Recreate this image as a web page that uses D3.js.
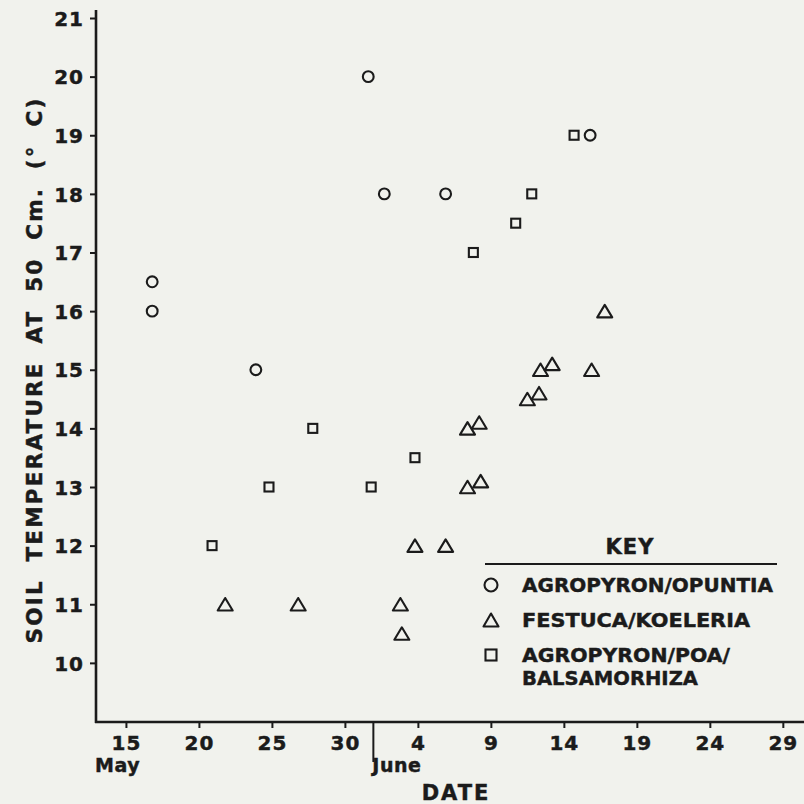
<!DOCTYPE html>
<html>
<head>
<meta charset="utf-8">
<script src="https://cdn.jsdelivr.net/npm/d3@7"></script>
<style>
  html, body { margin: 0; padding: 0; background: #f1f2ed; }
  svg { display: block; }
  svg text { font-family: "DejaVu Sans", "Liberation Sans", Arial, sans-serif; font-weight: bold; fill: #1b1b1b; stroke: #1b1b1b; stroke-width: 0.45px; }
</style>
</head>
<body>
<script>
// ---- data (x = day count from 0 May: 15 May = 15, 4 June = 35) ----
const circleDays  = [16.8, 16.8, 23.9, 31.6, 32.7, 36.9, 46.8];
const circleTemps = [16.5, 16.0, 15.0, 20.0, 18.0, 18.0, 19.0];

const triangleDays  = [21.8, 26.8, 33.8, 33.9, 34.8, 36.9, 38.4, 39.3, 38.4, 39.2, 42.5, 43.3, 43.4, 44.2, 46.9, 47.8];
const triangleTemps = [11.0, 11.0, 11.0, 10.5, 12.0, 12.0, 13.0, 13.1, 14.0, 14.1, 14.5, 14.6, 15.0, 15.1, 15.0, 16.0];

const squareDays  = [20.9, 24.8, 27.8, 31.8, 34.8, 38.8, 41.7, 42.8, 45.7];
const squareTemps = [12.0, 13.0, 14.0, 13.0, 13.5, 17.0, 17.5, 18.0, 19.0];

const xTickValues = [15, 20, 25, 30, 35, 40, 45, 50, 55, 60];
const xTickLabels = ["15", "20", "25", "30", "4", "9", "14", "19", "24", "29"];
const yTickValues = [10, 11, 12, 13, 14, 15, 16, 17, 18, 19, 20, 21];
const juneStart = 31.95;

const seriesNames = ["AGROPYRON/OPUNTIA", "FESTUCA/KOELERIA", "AGROPYRON/POA/", "BALSAMORHIZA"];
const yTitle = "SOIL TEMPERATURE AT 50 Cm. (° C)";
const xTitle = "DATE";

// ---- layout ----
const W = 804, H = 804;
const ink = "#1b1b1b";
const FONT = "'DejaVu Sans', 'Liberation Sans', Arial, sans-serif";
const svg = d3.select("body").append("svg").attr("width", W).attr("height", H);

const x = d3.scaleLinear().domain([12.95, 61.45]).range([96, 804]);
const y = d3.scaleLinear().domain([9, 21]).range([721.5, 18]);

// axes
const yAxis = d3.axisLeft(y).tickValues(yTickValues).tickSize(6).tickPadding(6).tickFormat(d3.format("d"));
const gy = svg.append("g").attr("transform", "translate(96,0)").call(yAxis)
  .attr("font-family", FONT).attr("font-size", 20);
gy.select(".domain").remove();
gy.selectAll(".tick line").attr("stroke", ink).attr("stroke-width", 2);
gy.selectAll(".tick text").attr("letter-spacing", 1).attr("dy", "0.36em").attr("fill", ink);

const xAxis = d3.axisBottom(x).tickValues(xTickValues).tickSize(6).tickPadding(10)
  .tickFormat((d, i) => xTickLabels[i]);
const gx = svg.append("g").attr("transform", "translate(0,722)").call(xAxis)
  .attr("font-family", FONT).attr("font-size", 20);
gx.select(".domain").remove();
gx.selectAll(".tick line").attr("stroke", ink).attr("stroke-width", 2);
gx.selectAll(".tick text").attr("letter-spacing", 1).attr("y", 28).attr("dy", 0).attr("fill", ink);

// axis lines
svg.append("line").attr("x1", 96).attr("x2", 96).attr("y1", 10).attr("y2", 723)
  .attr("stroke", ink).attr("stroke-width", 2.6);
svg.append("line").attr("x1", 95).attr("x2", 804).attr("y1", 722).attr("y2", 722)
  .attr("stroke", ink).attr("stroke-width", 2.6);

// month divider
svg.append("line").attr("x1", x(juneStart)).attr("x2", x(juneStart)).attr("y1", 722).attr("y2", 762)
  .attr("stroke", ink).attr("stroke-width", 2);
svg.append("text").attr("x", 95).attr("y", 772).attr("font-size", 19).attr("letter-spacing", 0.5).text("May");
svg.append("text").attr("x", x(juneStart) - 1).attr("y", 772).attr("font-size", 19).attr("letter-spacing", 0.5).text("June");

// titles
svg.append("text").attr("x", 456).attr("y", 800).attr("text-anchor", "middle")
  .attr("font-size", 21).attr("letter-spacing", 2).text(xTitle);
svg.append("text").attr("transform", "translate(42,370) rotate(-90)").attr("text-anchor", "middle")
  .attr("font-size", 21.5).attr("letter-spacing", 2.2).attr("word-spacing", 8).text(yTitle);

// marker shapes
function triPath(w, h) {
  return `M0,${-h / 2}L${w / 2},${h / 2}L${-w / 2},${h / 2}Z`;
}
const sw = 2.1;

// data markers
const circles = circleDays.map((d, i) => ({ d, t: circleTemps[i] }));
const tris = triangleDays.map((d, i) => ({ d, t: triangleTemps[i] }));
const squares = squareDays.map((d, i) => ({ d, t: squareTemps[i] }));

svg.append("g").selectAll("circle").data(circles).join("circle")
  .attr("cx", p => x(p.d)).attr("cy", p => y(p.t)).attr("r", 5.4)
  .attr("fill", "none").attr("stroke", ink).attr("stroke-width", sw);

svg.append("g").selectAll("path").data(tris).join("path")
  .attr("transform", p => `translate(${x(p.d)},${y(p.t)})`)
  .attr("d", triPath(15, 12.5))
  .attr("fill", "none").attr("stroke", ink).attr("stroke-width", sw).attr("stroke-linejoin", "round");

svg.append("g").selectAll("rect").data(squares).join("rect")
  .attr("x", p => x(p.d) - 4.5).attr("y", p => y(p.t) - 4.5).attr("width", 9).attr("height", 9)
  .attr("fill", "none").attr("stroke", ink).attr("stroke-width", sw);

// legend
const lg = svg.append("g");
lg.append("text").attr("x", 630).attr("y", 554).attr("text-anchor", "middle")
  .attr("font-size", 21).attr("letter-spacing", 1).text("KEY");
lg.append("line").attr("x1", 485).attr("x2", 777).attr("y1", 564).attr("y2", 564)
  .attr("stroke", ink).attr("stroke-width", 2);
lg.append("circle").attr("cx", 491).attr("cy", 585).attr("r", 6.5)
  .attr("fill", "none").attr("stroke", ink).attr("stroke-width", sw);
lg.append("path").attr("transform", "translate(491,620)").attr("d", triPath(15, 13))
  .attr("fill", "none").attr("stroke", ink).attr("stroke-width", sw).attr("stroke-linejoin", "round");
lg.append("rect").attr("x", 485.5).attr("y", 649.5).attr("width", 11).attr("height", 11)
  .attr("fill", "none").attr("stroke", ink).attr("stroke-width", sw);

const legendRows = [
  { text: seriesNames[0], y: 592, len: 251 },
  { text: seriesNames[1], y: 627, len: 228 },
  { text: seriesNames[2], y: 662, len: 208 },
  { text: seriesNames[3], y: 685, len: 176 }
];
lg.selectAll("text.row").data(legendRows).join("text").attr("class", "row")
  .attr("x", 522).attr("y", r => r.y).attr("font-size", 20)
  .attr("textLength", r => r.len).attr("lengthAdjust", "spacingAndGlyphs").text(r => r.text);
</script>
</body>
</html>
